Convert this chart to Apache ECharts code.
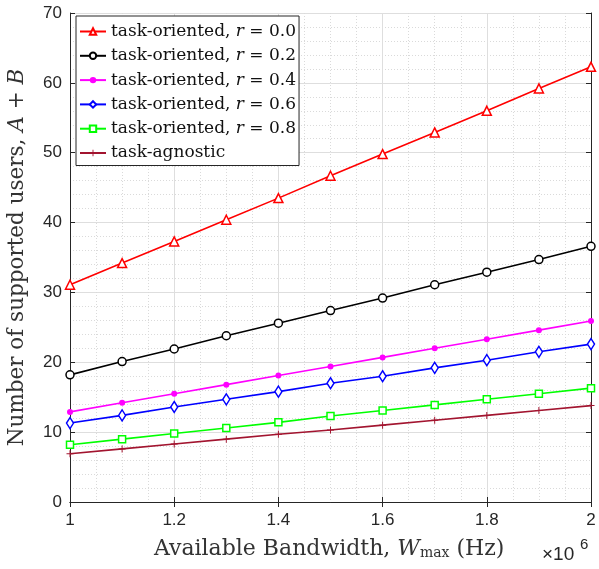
<!DOCTYPE html>
<html>
<head>
<meta charset="utf-8">
<script src="https://cdn.jsdelivr.net/npm/echarts@6/dist/echarts.min.js"></script>
<style>html,body{margin:0;padding:0;background:#fff;}#c{width:599px;height:569px;}</style>
</head>
<body>
<div id="c"></div>
<script>
const bandwidth = [1.0, 1.1, 1.2, 1.3, 1.4, 1.5, 1.6, 1.7, 1.8, 1.9, 2.0];
const r00 = [31.1, 34.2, 37.3, 40.4, 43.5, 46.7, 49.8, 52.9, 56.0, 59.2, 62.3];
const r02 = [18.2, 20.1, 21.9, 23.8, 25.6, 27.4, 29.2, 31.1, 32.9, 34.7, 36.6];
const r04 = [12.9, 14.2, 15.5, 16.8, 18.1, 19.4, 20.7, 22.0, 23.3, 24.6, 25.9];
const r06 = [11.3, 12.4, 13.6, 14.7, 15.8, 17.0, 18.0, 19.2, 20.3, 21.5, 22.6];
const r08 = [8.2, 9.0, 9.8, 10.6, 11.4, 12.3, 13.1, 13.9, 14.7, 15.5, 16.3];
const agnostic = [6.9, 7.6, 8.3, 9.0, 9.7, 10.3, 11.0, 11.7, 12.4, 13.1, 13.8];
const seriesNames = ['task-oriented, r = 0.0','task-oriented, r = 0.2','task-oriented, r = 0.4','task-oriented, r = 0.6','task-oriented, r = 0.8','task-agnostic'];
const legendRich = {
  0: '{a|task-oriented, }{i|r}{a| = 0.0}',
  1: '{a|task-oriented, }{i|r}{a| = 0.2}',
  2: '{a|task-oriented, }{i|r}{a| = 0.4}',
  3: '{a|task-oriented, }{i|r}{a| = 0.6}',
  4: '{a|task-oriented, }{i|r}{a| = 0.8}',
  5: '{a|task-agnostic}'
};
const yTicks = [0, 10, 20, 30, 40, 50, 60, 70];
const xTicks = [1, 1.2, 1.4, 1.6, 1.8, 2];

const plusPath = 'path://M0,4.3 H10 V5.7 H0 Z M4.3,0 H5.7 V10 H4.3 Z';
function pts(arr){ return bandwidth.map((x,i)=>[x, arr[i]]); }
const SERIF = '"DejaVu Serif", serif';
const SANS = '"Liberation Sans", Arial, sans-serif';
const axisCol = '#262626';

function mk(name, data, color, symbol, size, hollow){
  return {
    name: name, type: 'line', data: pts(data),
    symbol: symbol, symbolSize: size,
    lineStyle: {color: color, width: 1.6},
    itemStyle: hollow ? {color: '#fff', borderColor: color, borderWidth: 1.5} : {color: color, borderWidth: 0},
    emphasis: {disabled: true}, animation: false, z: 3
  };
}

const chart = echarts.init(document.getElementById('c'), null, {renderer: 'canvas'});
chart.setOption({
  animation: false,
  grid: {left: 70, right: 8, top: 13, bottom: 67, containLabel: false, outerBoundsMode: 'none'},
  xAxis: [{
    type: 'value', min: 1, max: 2, interval: 0.2,
    axisLine: {show: true, lineStyle: {color: axisCol, width: 1}},
    axisTick: {show: true, inside: true, length: 5, lineStyle: {color: axisCol}},
    axisLabel: {color: axisCol, fontFamily: SANS, fontSize: 17, margin: 10,
      formatter: v => { const t = xTicks.find(k => Math.abs(k - v) < 1e-6); return t === undefined ? '' : String(t); }},
    splitLine: {show: true, lineStyle: {color: '#dedede', width: 1}},
    minorTick: {show: false, splitNumber: 4},
    minorSplitLine: {show: true, lineStyle: {color: '#dadada', type: [1, 2], width: 1}}
  }, {
    type: 'value', min: 1, max: 2, interval: 0.2, position: 'top',
    axisLine: {show: true, lineStyle: {color: axisCol}},
    axisTick: {show: true, inside: true, length: 5, lineStyle: {color: axisCol}},
    axisLabel: {show: false}, splitLine: {show: false}
  }],
  yAxis: [{
    type: 'value', min: 0, max: 70, interval: 10,
    axisLine: {show: true, lineStyle: {color: axisCol}},
    axisTick: {show: true, inside: true, length: 5, lineStyle: {color: axisCol}},
    axisLabel: {color: axisCol, fontFamily: SANS, fontSize: 17, margin: 8,
      formatter: v => { const t = yTicks.find(k => Math.abs(k - v) < 1e-6); return t === undefined ? '' : String(t); }},
    splitLine: {show: true, lineStyle: {color: '#dedede', width: 1}},
    minorTick: {show: false, splitNumber: 5},
    minorSplitLine: {show: true, lineStyle: {color: '#dadada', type: [1, 2], width: 1}},
    name: '{n|Number of supported users, }{i|A}{n| + }{i|B}',
    nameLocation: 'middle', nameGap: 42, nameRotate: 90,
    nameTextStyle: {color: '#333', fontFamily: SERIF, fontSize: 21.5,
      rich: {n: {fontFamily: SERIF, fontSize: 21.5, color: '#333'}, i: {fontFamily: SERIF, fontSize: 21.5, fontStyle: 'italic', color: '#333'}}}
  }, {
    type: 'value', min: 0, max: 70, interval: 10, position: 'right',
    axisLine: {show: true, lineStyle: {color: axisCol}},
    axisTick: {show: true, inside: true, length: 5, lineStyle: {color: axisCol}},
    axisLabel: {show: false}, splitLine: {show: false}
  }],
  legend: {
    orient: 'vertical', left: 76, top: 16,
    data: seriesNames,
    backgroundColor: '#fff', borderColor: axisCol, borderWidth: 1,
    padding: [7, 3, 4, 3],
    itemWidth: 26, itemHeight: 8, itemGap: 7.3,
    formatter: name => legendRich[seriesNames.indexOf(name)],
    textStyle: {color: '#111', fontFamily: SERIF, fontSize: 17,
      rich: {a: {fontFamily: SERIF, fontSize: 17, color: '#111'}, i: {fontFamily: SERIF, fontSize: 17, fontStyle: 'italic', color: '#111'}}},
    selectedMode: false
  },
  graphic: [
    {type: 'text', left: 154, top: 538, style: {
      text: '{n|Available Bandwidth, }{i|W}{s|max}{n| (Hz)}',
      rich: {n: {fontFamily: SERIF, fontSize: 22, fill: '#333'}, i: {fontFamily: SERIF, fontSize: 22, fontStyle: 'italic', fill: '#333'}, s: {fontFamily: SERIF, fontSize: 14, fill: '#333', padding: [9, 0, 0, 0]}}
    }},
    {type: 'text', left: 542, top: 545, style: {text: '×10', fontFamily: SANS, fontSize: 19, fill: axisCol}},
    {type: 'text', left: 580, top: 537, style: {text: '6', fontFamily: SANS, fontSize: 15, fill: axisCol}}
  ],
  series: [
    mk(seriesNames[0], r00, '#ff0000', 'triangle', 9, true),
    mk(seriesNames[1], r02, '#000000', 'circle', 8, true),
    mk(seriesNames[2], r04, '#ff00ff', 'circle', 6, false),
    mk(seriesNames[3], r06, '#0000ff', 'diamond', [7, 11], true),
    mk(seriesNames[4], r08, '#00ff00', 'rect', 7, true),
    mk(seriesNames[5], agnostic, '#a2142f', plusPath, 7, false)
  ]
});
</script>
</body>
</html>
